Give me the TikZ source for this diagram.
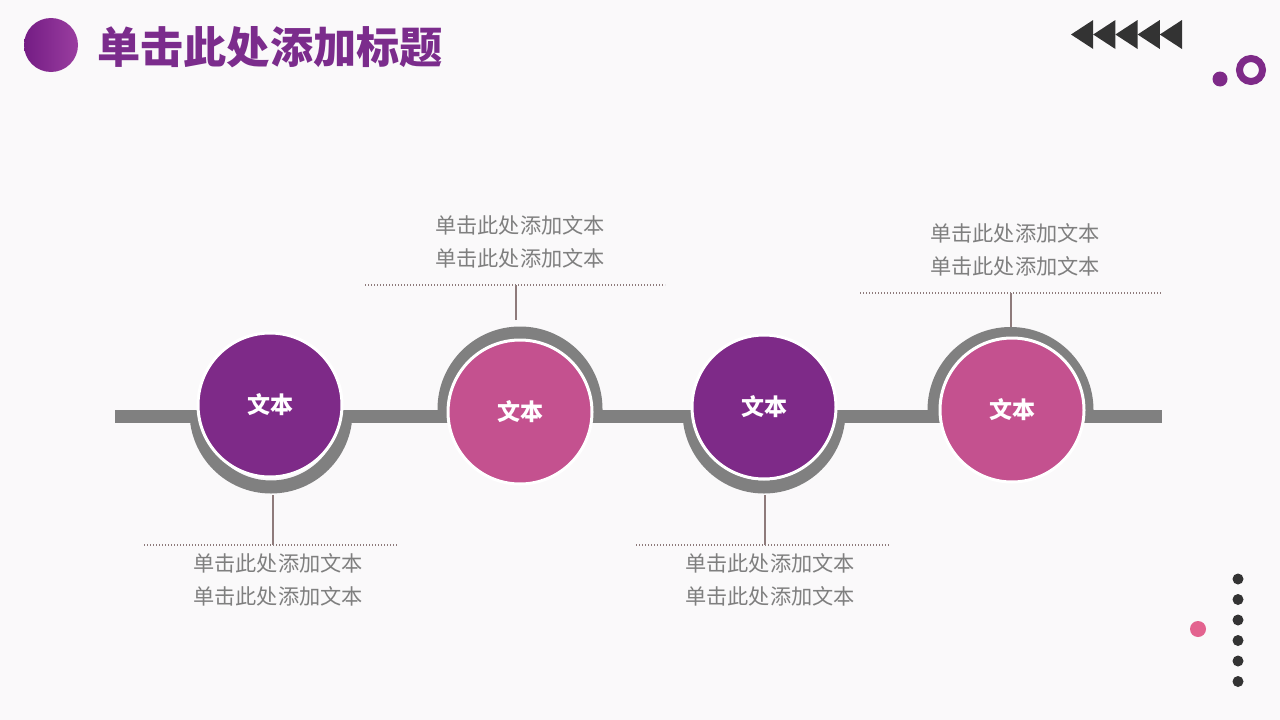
\documentclass[tikz,border=0pt]{standalone}
\usepackage{fontspec}
\newfontfamily\cjk{Noto Sans CJK SC}
\definecolor{bgc}{HTML}{FAF9FA}
\definecolor{purp}{HTML}{7E2A88}
\definecolor{pinkc}{HTML}{C4518F}
\definecolor{band}{HTML}{808080}
\definecolor{conn}{HTML}{8E7B7B}
\definecolor{txtg}{HTML}{7F7F7F}
\definecolor{darkc}{HTML}{333333}
\definecolor{dotpink}{HTML}{E3638F}
\definecolor{titlep}{HTML}{7B2C8C}
\definecolor{tcl}{HTML}{741C84}
\definecolor{tcr}{HTML}{9A3EA0}
\begin{document}
\begin{tikzpicture}[x=1pt,y=1pt,
  bandline/.style={draw=band,line width=13pt,line cap=butt},
  stepcircle/.style={circle,draw=white,line width=3pt,minimum size=144pt,inner sep=0pt,text=white,font=\cjk\bfseries\fontsize{23}{26}\selectfont},
  desc/.style={align=center,text=txtg,font=\cjk\fontsize{21.2}{33}\selectfont,inner sep=0pt},
  leader/.style={draw=conn,line width=1.3pt},
  dotline/.style={draw=conn,line width=1.2pt,dash pattern=on 1.2pt off 1.8pt},
  blackdot/.style={circle,fill=darkc,inner sep=0pt,minimum size=11pt}
]
\useasboundingbox (0,0) rectangle (1280,-720);
\fill[bgc] (0,0) rectangle (1280,-720);

% title
\shade[left color=tcl,right color=tcr] (51,-45) circle (27);
\node[anchor=west,text=titlep,font=\cjk\bfseries\fontsize{43.2}{48}\selectfont,inner sep=0pt] (title) at (97,-47) {单击此处添加标题};

% triangles
\foreach \i in {0,...,4}{
  \fill[darkc] ({1071+22.2*\i},-34.5) -- ({1093.2+22.2*\i},-20) -- ({1093.2+22.2*\i},-49) -- cycle;
}
\fill[purp] (1220,-79) circle (7.5);
\draw[purp,line width=7pt] (1251,-70) circle (11.5);

% right dots
\foreach \y in {579,599.5,620,640.5,661,681.5}{
  \node[blackdot] at (1238,-\y) {};
}
\node[circle,fill=dotpink,inner sep=0pt,minimum size=16pt] (pd) at (1198,-629) {};

% main band
\draw[bandline] (115,-416) -- (1162,-416);
\draw[bandline] (196,-416) -- (196,-412) arc (180:360:75) -- (346,-416);
\draw[bandline] (444,-416) -- (444,-409) arc (180:0:76) -- (596,-416);
\draw[bandline] (689,-416) -- (689,-412) arc (180:360:75) -- (839,-416);
\draw[bandline] (934,-416) -- (934,-410) arc (180:0:76.5) -- (1087,-416);

% circles
\node[stepcircle,fill=purp] (c1) at (270,-405) {文本};
\node[stepcircle,fill=pinkc] (c2) at (520,-412) {文本};
\node[stepcircle,fill=purp] (c3) at (764,-407) {文本};
\node[stepcircle,fill=pinkc] (c4) at (1012,-410) {文本};

% leaders
\coordinate (a1) at (273,-495);
\coordinate (b1) at (273,-545);
\coordinate (a2) at (516,-320);
\coordinate (b2) at (516,-285);
\coordinate (a3) at (765,-495);
\coordinate (b3) at (765,-545);
\coordinate (a4) at (1011,-327);
\coordinate (b4) at (1011,-293);
\draw[leader] (a1) -- (b1);
\draw[leader] (a2) -- (b2);
\draw[leader] (a3) -- (b3);
\draw[leader] (a4) -- (b4);

\coordinate (d1l) at (144,-545); \coordinate (d1r) at (398,-545);
\coordinate (d2l) at (365,-285); \coordinate (d2r) at (665,-285);
\coordinate (d3l) at (636,-545); \coordinate (d3r) at (890,-545);
\coordinate (d4l) at (860,-293); \coordinate (d4r) at (1162,-293);
\draw[dotline] (d1l) -- (d1r);
\draw[dotline] (d2l) -- (d2r);
\draw[dotline] (d3l) -- (d3r);
\draw[dotline] (d4l) -- (d4r);

% descriptions
\node[desc] (t1) at (278,-580) {单击此处添加文本\\单击此处添加文本};
\node[desc] (t2) at (520,-241.5) {单击此处添加文本\\单击此处添加文本};
\node[desc] (t3) at (770,-580) {单击此处添加文本\\单击此处添加文本};
\node[desc] (t4) at (1015,-249.5) {单击此处添加文本\\单击此处添加文本};
\end{tikzpicture}
\end{document}
